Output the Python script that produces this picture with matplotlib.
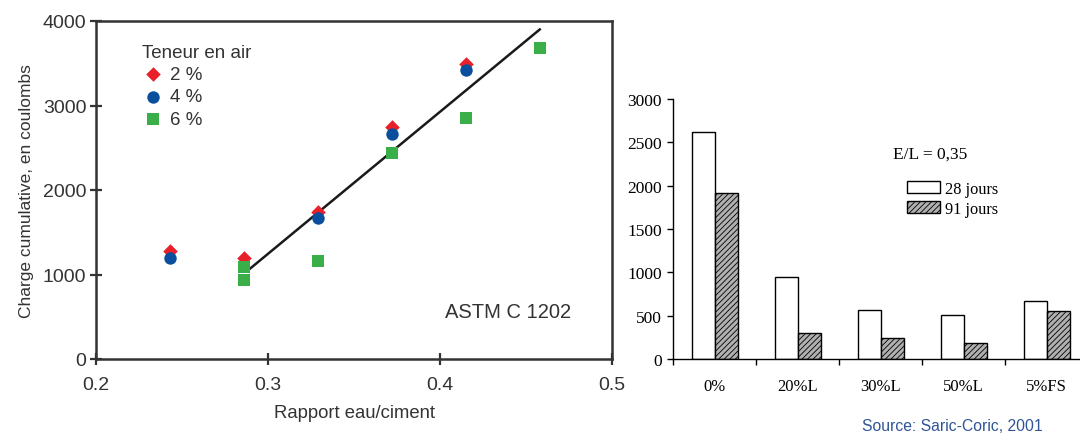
import matplotlib
matplotlib.use("Agg")
import matplotlib.pyplot as plt
from matplotlib.patches import Patch
import numpy as np

# ---- Left chart data ----
x_2pct = [0.243, 0.286, 0.329, 0.372, 0.415]
y_2pct = [1280, 1200, 1740, 2750, 3490]
x_4pct = [0.243, 0.329, 0.372, 0.415]
y_4pct = [1190, 1670, 2660, 3420]
x_6pct = [0.286, 0.286, 0.329, 0.372, 0.415, 0.458]
y_6pct = [1090, 930, 1160, 2440, 2850, 3680]
fit_x = [0.289, 0.458]
fit_y = [1060, 3900]

# ---- Right chart data ----
categories = ["0%", "20%L", "30%L", "50%L", "5%FS"]
jours28 = [2620, 950, 560, 510, 670]
jours91 = [1920, 300, 240, 190, 550]

plt.rcParams["hatch.linewidth"] = 0.6
fig = plt.figure(figsize=(10.8, 4.35), dpi=100)

# Left axes
ax = fig.add_axes([96/1080, 1-360/435, (612-96)/1080, (360-22)/435])
gray = "#333333"
ax.plot(fit_x, fit_y, color="#1a1a1a", lw=1.8, zorder=2)
ax.scatter(x_2pct, y_2pct, marker="D", s=55, color="#e8202a", zorder=3, label="2 %", linewidths=0)
ax.scatter(x_4pct, y_4pct, marker="o", s=80, color="#0a4f9e", zorder=4, label="4 %", linewidths=0)
ax.scatter(x_6pct, y_6pct, marker="s", s=65, color="#3aae48", zorder=5, label="6 %", linewidths=0)
ax.set_xlim(0.2, 0.5)
ax.set_ylim(0, 4000)
ax.set_xticks([0.2, 0.3, 0.4, 0.5])
ax.set_xticklabels(["0.2", "0.3", "0.4", "0.5"])
ax.set_yticks([0, 1000, 2000, 3000, 4000])
for s in ax.spines.values():
    s.set_color(gray)
    s.set_linewidth(1.8)
ax.tick_params(direction="inout", length=8, width=1.6, color=gray, labelcolor=gray,
               labelsize=14, pad=3)
ax.tick_params(axis="x", pad=8)
for lab in ax.get_xticklabels() + ax.get_yticklabels():
    lab.set_family("Liberation Sans")
ax.set_xlabel("Rapport eau/ciment", fontsize=13.3, color=gray, family="Liberation Sans", labelpad=8)
ax.set_ylabel("Charge cumulative, en coulombs", fontsize=12.5, color=gray, family="Liberation Sans", labelpad=6)
leg = ax.legend(title="Teneur en air", loc="upper left", bbox_to_anchor=(0.075, 0.955),
                frameon=False, title_fontsize=13.5, handletextpad=0.3,
                borderaxespad=0, labelspacing=0.28, handlelength=1.2,
                prop={"family": "Liberation Sans", "size": 13.5})
leg.get_title().set_color(gray)
leg.get_title().set_family("Liberation Sans")
leg._legend_box.align = "left"
for t in leg.get_texts():
    t.set_color(gray)
ax.text(0.403, 560, "ASTM C 1202", fontsize=14.5, color=gray, family="Liberation Sans",
        ha="left", va="center")

# Right axes
ax2 = fig.add_axes([673/1080, 1-360/435, 1-673/1080, (360-100)/435])
xpos = np.arange(len(categories))
w = 0.28
ax2.bar(xpos - 0.13, jours28, width=w, facecolor="white", edgecolor="black", lw=1.0)
ax2.bar(xpos + 0.15, jours91, width=w, facecolor="#b0b0b0", edgecolor="black", lw=1.0,
        hatch="//////")
ax2.set_xlim(-0.5, 4.41)
ax2.set_ylim(0, 3000)
ax2.set_yticks(np.arange(0, 3001, 500))
ax2.set_xticks(xpos - 0.5, minor=False)
ax2.set_xticklabels([])
ax2.set_xticks(xpos, minor=True)
ax2.set_xticklabels(categories, minor=True)
ax2.tick_params(axis="x", which="minor", length=0, pad=14, labelsize=12)
ax2.tick_params(axis="x", which="major", length=4, width=1, direction="out")
ax2.tick_params(axis="y", length=4, width=1, direction="out", labelsize=12.5, pad=4)
for lab in ax2.get_xticklabels(minor=True) + ax2.get_yticklabels():
    lab.set_family("Liberation Serif")
ax2.spines["top"].set_visible(False)
ax2.spines["right"].set_visible(False)
ax2.spines["left"].set_linewidth(1.0)
ax2.spines["bottom"].set_linewidth(1.0)
ax2.text(2.15, 2365, "E/L = 0,35", fontsize=12.5, family="Liberation Serif", ha="left", va="center")
handles = [Patch(facecolor="white", edgecolor="black", lw=1.0, label="28 jours"),
           Patch(facecolor="#b0b0b0", edgecolor="black", lw=1.0, hatch="//////", label="91 jours")]
ax2.legend(handles=handles, loc="upper left", bbox_to_anchor=(0.56, 0.71), frameon=False,
           prop={"family": "Liberation Serif", "size": 11.8}, handlelength=2.0, handleheight=0.75,
           handletextpad=0.3, labelspacing=0.25, borderaxespad=0)

fig.text(862/1080, 1-427/435, "Source: Saric-Coric, 2001", fontsize=11.3, color="#2f5597",
         family="Liberation Sans", ha="left", va="center")

fig.savefig("out.png", dpi=100)
